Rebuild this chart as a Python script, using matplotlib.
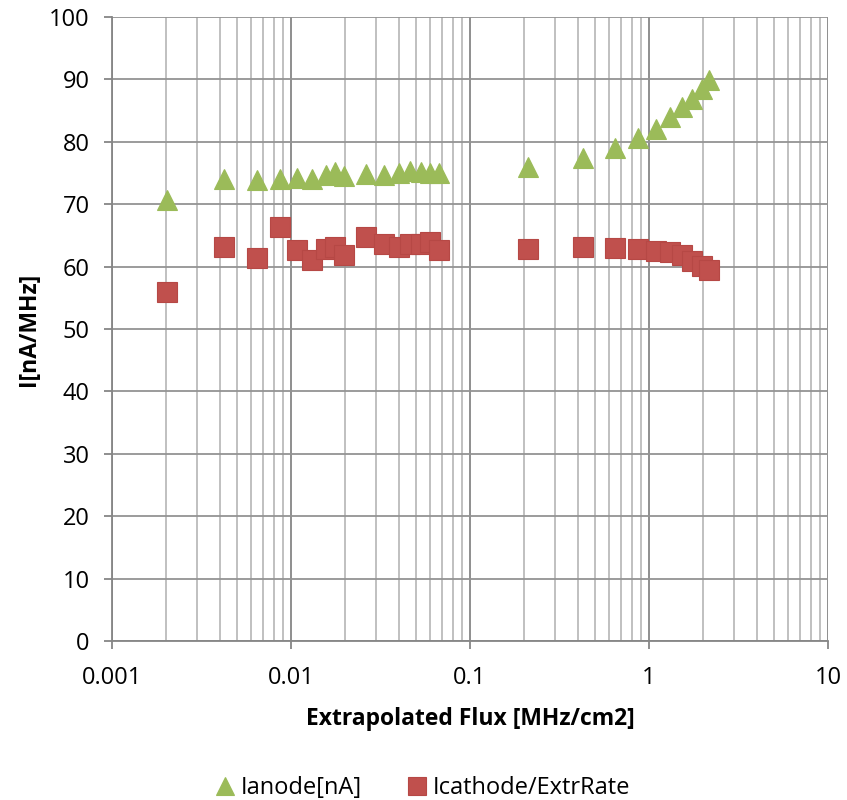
import matplotlib.pyplot as plt
from matplotlib.ticker import LogLocator, FixedLocator, NullFormatter

plt.rcParams['font.family'] = ['Open Sans', 'DejaVu Sans']

# Extrapolated Flux [MHz/cm2]
flux = [0.00203, 0.00423, 0.00645, 0.0087, 0.0108, 0.0131, 0.0157, 0.0176,
        0.0198, 0.0262, 0.0331, 0.0401, 0.0462, 0.0532, 0.0598, 0.0672,
        0.211, 0.428, 0.645, 0.868, 1.094, 1.31, 1.53, 1.74, 1.98, 2.16]
# Ianode[nA]
ianode = [70.7, 74.0, 73.9, 74.0, 74.2, 74.0, 74.7, 75.1,
          74.5, 74.9, 74.6, 75.0, 75.3, 75.2, 75.0, 75.0,
          75.9, 77.4, 79.0, 80.6, 82.1, 83.9, 85.5, 86.8, 88.4, 89.9]
# Icathode/ExtrRate
icath = [55.9, 63.1, 61.4, 66.4, 62.7, 61.1, 62.9, 63.1,
         61.8, 64.8, 63.7, 63.1, 63.6, 63.7, 63.9, 62.7,
         62.9, 63.1, 63.0, 62.8, 62.5, 62.3, 61.8, 60.9, 60.1, 59.4]

fig = plt.figure(figsize=(8.47, 8.0), dpi=100)
ax = fig.add_axes([112 / 847, 1 - 641 / 800, (828 - 112) / 847, (641 - 17) / 800])

ax.plot(flux, ianode, linestyle='none', marker='^', markersize=14,
        color='#9BBB59', markeredgecolor='#9BBB59', markeredgewidth=0.8,
        label='Ianode[nA]', zorder=3)
ax.plot(flux, icath, linestyle='none', marker='s', markersize=14,
        color='#C0504D', markeredgecolor='#B64845', markeredgewidth=0.8,
        label='Icathode/ExtrRate', zorder=3)

ax.set_xscale('log')
ax.set_xlim(0.001, 10)
ax.set_ylim(0, 100)
ax.yaxis.set_major_locator(FixedLocator(range(0, 101, 10)))
ax.xaxis.set_major_locator(FixedLocator([0.001, 0.01, 0.1, 1, 10]))
ax.xaxis.set_minor_locator(LogLocator(base=10, subs=range(2, 10)))
ax.xaxis.set_minor_formatter(NullFormatter())
ax.set_xticklabels(['0.001', '0.01', '0.1', '1', '10'])

ax.grid(which='major', axis='y', color='#939393', linewidth=1.3, zorder=0)
ax.grid(which='major', axis='x', color='#868686', linewidth=1.3, zorder=0)
ax.grid(which='minor', axis='x', color='#BBBBBB', linewidth=1.3, zorder=0)
ax.set_axisbelow(True)

for s in ['top', 'right']:
    ax.spines[s].set_visible(False)
for s in ['left', 'bottom']:
    ax.spines[s].set_color('#868686')
    ax.spines[s].set_linewidth(1.3)

ax.tick_params(axis='both', which='major', direction='out', length=6,
               width=1.3, color='#868686', labelsize=17, labelcolor='black')
ax.tick_params(axis='x', which='minor', length=0)
ax.tick_params(axis='y', pad=10)
ax.tick_params(axis='x', pad=12)

ax.set_xlabel('Extrapolated Flux [MHz/cm2]', fontsize=16.5, fontweight='bold',
              labelpad=12)
ax.set_ylabel('I[nA/MHz]', fontsize=16.5, fontweight='bold', labelpad=6)

fig.legend(loc='center', bbox_to_anchor=(0.5, 1 - 788 / 800), ncol=2,
           frameon=False, fontsize=17, handlelength=0.7, handletextpad=0.3,
           columnspacing=2.0, markerscale=0.95)

fig.savefig('out.png', dpi=100)
